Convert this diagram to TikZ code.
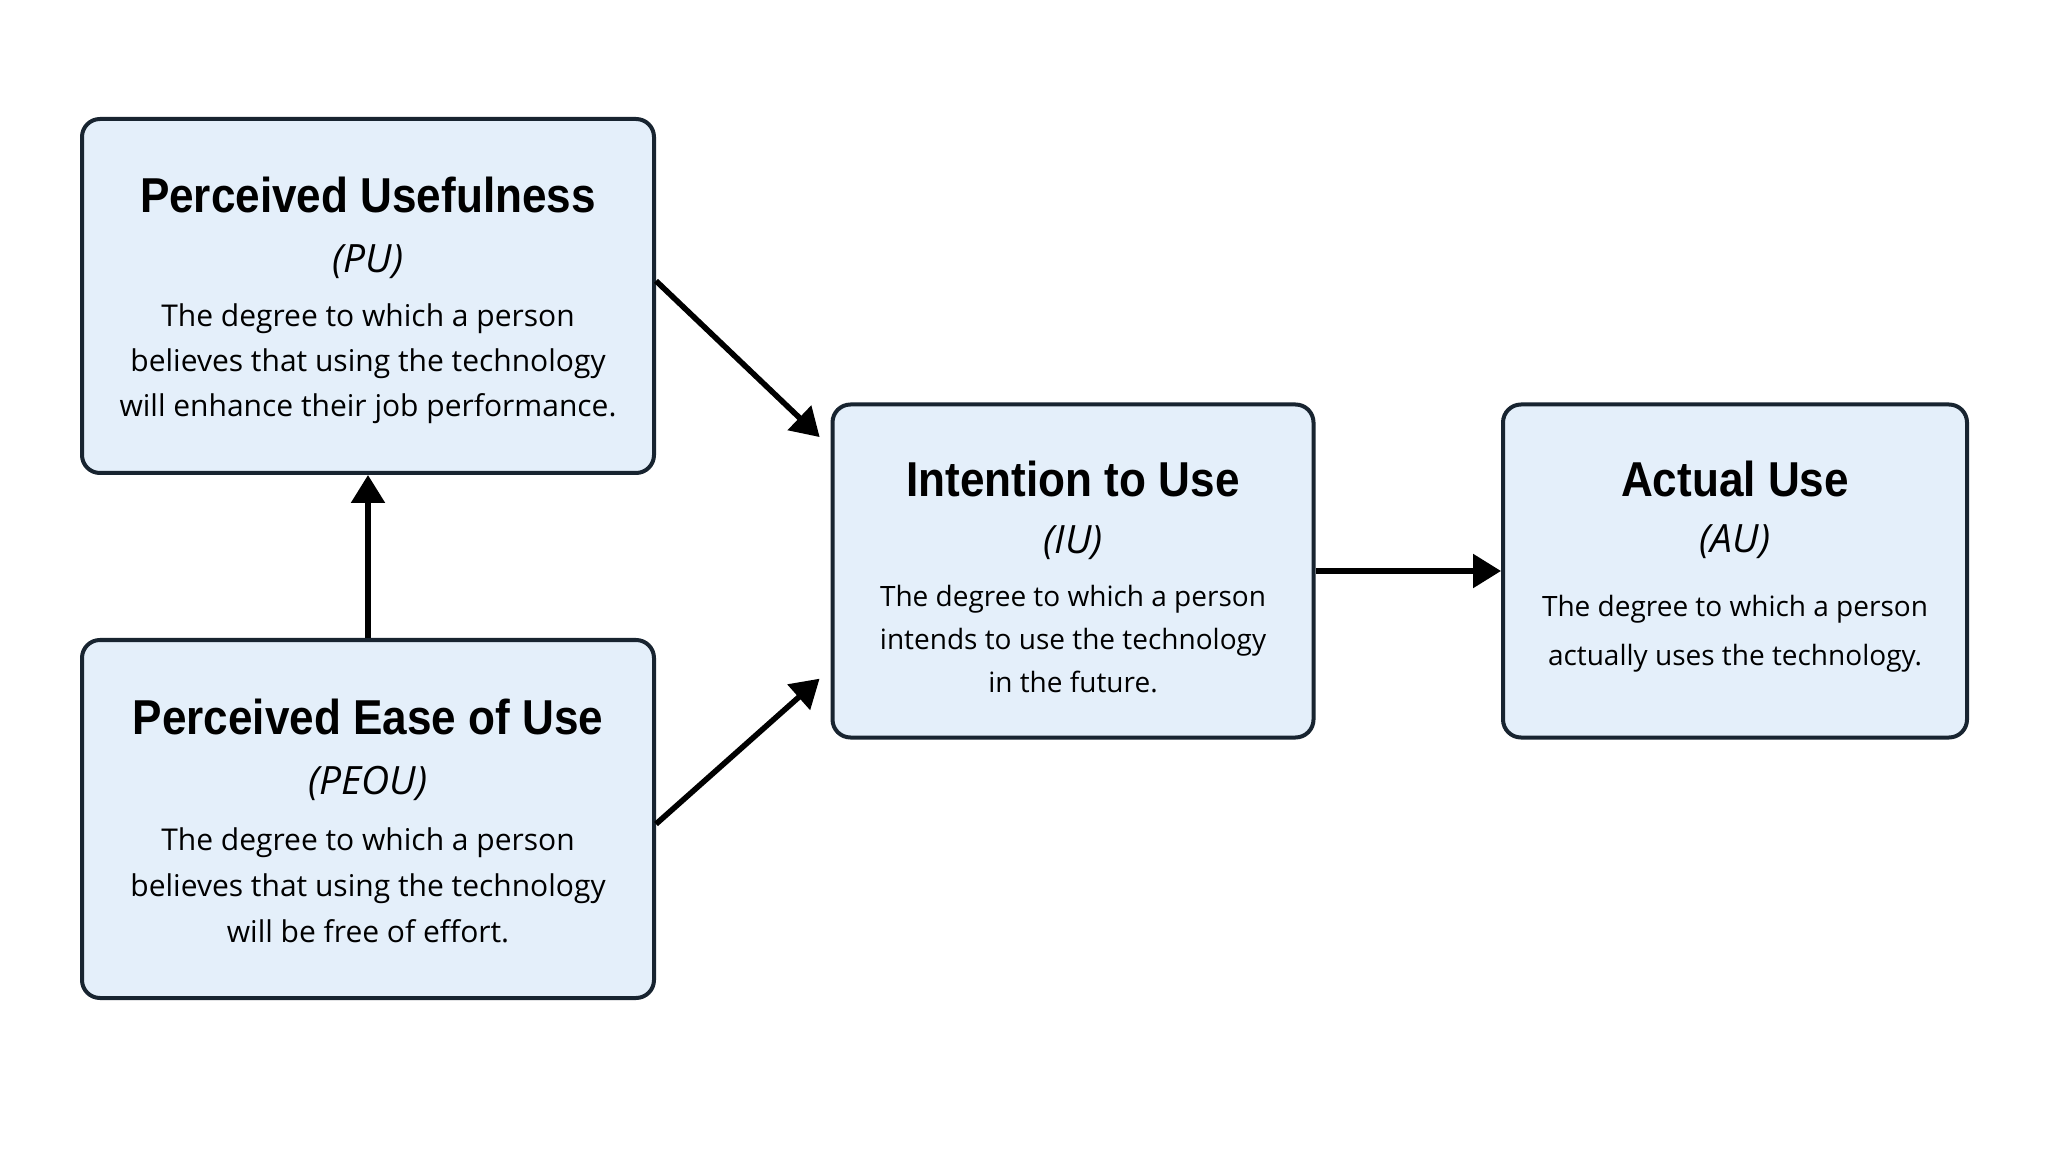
\documentclass[tikz,border=0pt]{standalone}
\usepackage{fontspec}
\setmainfont{Open Sans}
\newfontfamily\ttlfont[FakeStretch=0.9]{Liberation Sans}
\usepackage{tikz}
\usetikzlibrary{arrows.meta}
\definecolor{boxfill}{RGB}{228,239,250}
\definecolor{boxline}{RGB}{24,36,48}
\tikzstyle{tambox}=[draw=boxline, line width=2pt, fill=boxfill, rounded corners=9pt, align=center, inner sep=0pt, font=\fontsize{15}{22.5}\selectfont]
\tikzstyle{smallbox}=[tambox, font=\fontsize{14}{22.5}\selectfont]
\tikzstyle{dedge}=[line width=2.8pt, -{Triangle[length=14pt,width=16.5pt]}]
\newcommand{\ttl}[2][18pt]{{\ttlfont\bfseries\fontsize{24.5}{24.5}\selectfont\rule{0pt}{#1}#2}}
\newcommand{\abbr}[1]{{\itshape\fontsize{19.5}{19.5}\selectfont (#1)}}

\begin{document}
\begin{tikzpicture}[x=0.5pt,y=0.5pt]
					\fill[white] (0,0) rectangle (2048,1152);
					\useasboundingbox (0,0) rectangle (2048,1152);

					\node[tambox, minimum width=286pt, minimum height=177pt] (pu) at (368,856) {\ttl[22.5pt]{Perceived Usefulness}\\[7.5pt] \abbr{PU}\\[4.5pt] The degree to which a person\\ believes that using the technology\\ will enhance their job performance.};
					\node[tambox, minimum width=286pt, minimum height=179pt] (peou) at (368,333) {\ttl[20pt]{Perceived Ease of Use}\\[7.5pt] \abbr{PEOU}\\[5.5pt] The degree to which a person\\[0.5pt] believes that using the technology\\[0.5pt] will be free of effort.};
					\node[smallbox, minimum width=240.5pt, minimum height=166.5pt] (iu) at (1073,581) {\ttl[23.7pt]{Intention to Use}\\[5.9pt] \abbr{IU}\\[4.1pt] The degree to which a person\\[-1pt] intends to use the technology\\[-1pt] in the future.};
					\node[smallbox, minimum width=232pt, minimum height=166.5pt] (au) at (1735,581) {\ttl{Actual Use}\\[5.2pt] \abbr{AU}\\[9.8pt] The degree to which a person\\[1.7pt] actually uses the technology.\rule[-8.1pt]{0pt}{0pt}};

					\draw[dedge, shorten >=7.5pt] (pu.3) -- (iu.153);
					\draw[dedge, shorten >=7.3pt] (peou.-1) -- (iu.202);
					\draw[dedge] (peou.north) -- (pu.south);
					\draw[dedge] (iu.east) -- (au.west);

\end{tikzpicture}
\end{document}
